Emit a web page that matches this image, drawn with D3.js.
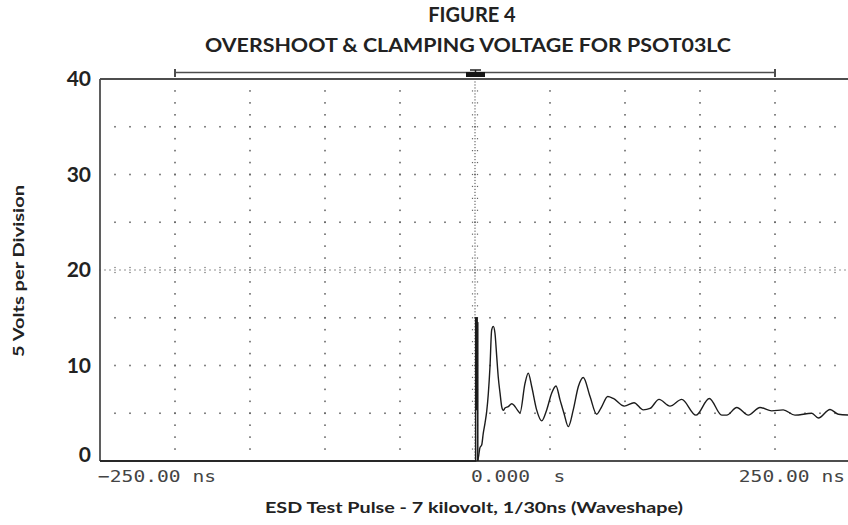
<!DOCTYPE html>
<html><head><meta charset="utf-8">
<script src="https://cdn.jsdelivr.net/npm/d3@7"></script>
<style>body{margin:0;background:#fff}svg{display:block}</style>
</head><body><svg id="c" width="848" height="525"></svg>
<script>
// ---------- data ----------
const titleLines = ["FIGURE 4", "OVERSHOOT & CLAMPING VOLTAGE FOR PSOT03LC"];
const xTitle = "ESD Test Pulse - 7 kilovolt, 1/30ns (Waveshape)";
const yTitle = "5 Volts per Division";
const yTickValues = [0, 10, 20, 30, 40];
const xTickValues = [-250, 0, 250];
const xTickLabels = ["\u2212250.00 ns", "0.000  s", "250.00 ns"];
const cursorRange = [-200, 200];
// fast edge (drawn straight, sample by sample)
const edgeTimeNs = [-250, 0.45, 0.45, 0.7, 0.95, 1.2, 1.45, 1.7, 1.85, 1.85];
const edgeVolts  = [0, 0, 15.0, 5.4, 15.0, 5.4, 15.0, 5.4, 14.5, 0];
// ringing after the edge
const timeNs = [1.85, 2.5, 3.3, 4.5, 5.5, 6.7, 7.8, 8.9, 10, 11.1, 12.2, 13.3, 14.5, 15.5, 16.7, 17.8, 18.9, 20, 22.2, 24.5, 26, 28.2, 30, 33.3, 35.5, 37.8, 41.1, 44.5, 47.8, 51.1, 54, 56.7, 59.3, 62.2, 65.5, 68.9, 72.2, 76.7, 81.1, 84.5, 88.5, 92.2, 99.5, 106, 112.2, 116.7, 122.7, 130, 137.8, 147.3, 156.2, 164.5, 167.8, 174.5, 182.2, 190, 197.8, 205.5, 213.3, 224.5, 228.9, 236.7, 242.2, 250];
const volts  = [0, 0.6, 1.4, 1.7, 2.9, 4.0, 5.2, 7.1, 9.9, 13.7, 14.1, 13.4, 10.9, 8.8, 7.1, 5.7, 5.3, 5.55, 5.7, 6.0, 5.85, 5.35, 5.05, 8.1, 9.2, 7.8, 5.35, 4.2, 5.35, 7.1, 7.85, 6.4, 5.0, 3.6, 5.35, 7.8, 8.75, 6.75, 4.9, 5.7, 6.75, 6.55, 5.75, 6.1, 5.35, 5.5, 6.45, 5.75, 6.45, 4.8, 6.55, 4.8, 4.8, 5.6, 4.8, 5.6, 5.25, 5.35, 4.8, 5.0, 4.5, 5.4, 4.9, 4.8];

// ---------- layout ----------
const W = 848, H = 525;
const svg = d3.select("#c");
const x = d3.scaleLinear().domain([-250, 250]).range([100, 850]);
const y = d3.scaleLinear().domain([0, 40]).range([461, 79]);
const gridCol = "#666", frameCol = "#4d4d4d";

// grid dots
const gDots = svg.append("g").attr("fill", gridCol);
const colTimes = d3.range(-200, 201, 50).filter(t => t !== 0);
const rowVolts = d3.range(5, 40, 5).filter(v => v !== 20);
const subV = d3.range(1.25, 40, 1.25);
const subT = d3.range(-240, 250, 10);
const dot = (cx, cy, s) => gDots.append("rect").attr("x", cx - s / 2).attr("y", cy - s / 2).attr("width", s).attr("height", s);
colTimes.forEach(t => subV.forEach(v => dot(x(t), y(v), 1.6)));
rowVolts.forEach(v => subT.forEach(t => dot(x(t), y(v), 1.6)));
// centre horizontal line (20 V)
d3.range(-250, 251, 10 / 3).forEach(t => dot(x(t), y(20), 1.2));
subT.forEach(t => [-2.5, 2.5].forEach(d => dot(x(t), y(20) + d, 1.2)));
// centre vertical line (0 ns)
d3.range(0.3125, 40, 0.3125).forEach(v => dot(x(0), y(v), 1.2));
subV.forEach(v => [-2.5, 2.5].forEach(d => dot(x(0) + d, y(v), 1.2)));

// frame
const fr = svg.append("g").attr("stroke", frameCol).attr("stroke-width", 1.8);
fr.append("line").attr("x1", x(-250)).attr("x2", W).attr("y1", y(40)).attr("y2", y(40));
fr.append("line").attr("x1", x(-250)).attr("x2", W).attr("y1", y(0)).attr("y2", y(0));
fr.append("line").attr("x1", x(-250)).attr("x2", x(-250)).attr("y1", y(40)).attr("y2", y(0));

// top cursor bar
const cb = svg.append("g").attr("stroke", frameCol);
cb.append("line").attr("x1", x(cursorRange[0])).attr("x2", x(cursorRange[1])).attr("y1", 72.5).attr("y2", 72.5).attr("stroke-width", 1.6);
cursorRange.forEach(t => cb.append("line").attr("x1", x(t)).attr("x2", x(t)).attr("y1", 69).attr("y2", 77).attr("stroke-width", 2));
svg.append("rect").attr("x", x(0) - 9).attr("y", 72).attr("width", 19).attr("height", 5).attr("fill", "#151515");
svg.append("line").attr("x1", x(0) - 5).attr("x2", x(0) + 6).attr("y1", 70).attr("y2", 70).attr("stroke", "#222").attr("stroke-width", 1.5);
svg.append("line").attr("x1", x(0) + 0.5).attr("x2", x(0) + 0.5).attr("y1", 70).attr("y2", 72).attr("stroke", "#222").attr("stroke-width", 1.5);

// waveform
const edgePts = edgeTimeNs.map((t, i) => [t, edgeVolts[i]]);
const ringPts = timeNs.map((t, i) => [t, volts[i]]);
const lineLin = d3.line().x(d => x(d[0])).y(d => y(d[1]));
const lineSmooth = d3.line().x(d => x(d[0])).y(d => y(d[1])).curve(d3.curveMonotoneX);
svg.append("path").attr("d", lineLin(edgePts)).attr("fill", "none")
  .attr("stroke", "#1c1c1c").attr("stroke-width", 1.5).attr("stroke-linejoin", "round");
svg.append("path").attr("d", lineSmooth(ringPts)).attr("fill", "none")
  .attr("stroke", "#1c1c1c").attr("stroke-width", 1.4).attr("stroke-linejoin", "round");

// y tick labels
svg.append("g").selectAll("text").data(yTickValues).join("text")
  .attr("x", 91).attr("y", v => Math.min(y(v) + 2, 457))
  .attr("dominant-baseline", "middle").attr("text-anchor", "end")
  .attr("font-family", "Lato, 'Open Sans', sans-serif").attr("font-weight", 700)
  .attr("font-size", 21).attr("fill", "#222").text(v => v);

// x tick labels
const xAnch = ["start", "start", "end"];
const xOff = [-2, -4, -5];
svg.append("g").selectAll("text").data(xTickValues).join("text")
  .attr("x", (t, i) => x(t) + xOff[i]).attr("y", 477)
  .attr("dominant-baseline", "middle").attr("text-anchor", (t, i) => xAnch[i])
  .attr("font-family", "'DejaVu Sans Mono', monospace").attr("font-size", 16.5)
  .attr("fill", "#444").style("white-space", "pre")
  .attr("textLength", (t, i) => xTickLabels[i].length * 11.8).attr("lengthAdjust", "spacingAndGlyphs")
  .text((t, i) => xTickLabels[i]);

// titles
const tf = "Lato, 'Open Sans', sans-serif";
svg.append("text").attr("x", 472).attr("y", 17).attr("dominant-baseline", "middle").attr("text-anchor", "middle")
  .attr("font-family", tf).attr("font-weight", 700).attr("font-size", 20).attr("fill", "#222").text(titleLines[0]);
svg.append("text").attr("x", 468).attr("y", 47).attr("dominant-baseline", "middle").attr("text-anchor", "middle")
  .attr("font-family", tf).attr("font-weight", 700).attr("font-size", 19.5).attr("fill", "#222")
  .attr("textLength", 526).attr("lengthAdjust", "spacingAndGlyphs").text(titleLines[1]);
svg.append("text").attr("x", 474).attr("y", 509).attr("dominant-baseline", "middle").attr("text-anchor", "middle")
  .attr("font-family", tf).attr("font-weight", 700).attr("font-size", 16).attr("fill", "#222")
  .attr("textLength", 418).attr("lengthAdjust", "spacingAndGlyphs").text(xTitle);
svg.append("text").attr("transform", "translate(20,271) rotate(-90)").attr("dominant-baseline", "middle").attr("text-anchor", "middle")
  .attr("font-family", tf).attr("font-weight", 700).attr("font-size", 16).attr("fill", "#222")
  .attr("textLength", 172).attr("lengthAdjust", "spacingAndGlyphs").text(yTitle);
</script></body></html>
